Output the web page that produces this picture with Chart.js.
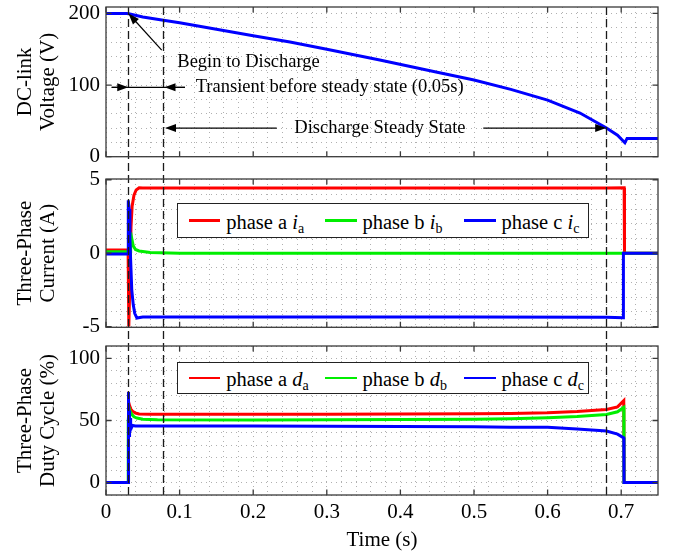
<!DOCTYPE html>
<html><head><meta charset="utf-8">
<script src="https://cdn.jsdelivr.net/npm/chart.js@4.4.0/dist/chart.umd.min.js"></script>
<style>
html,body{margin:0;padding:0;background:#fff;}
#wrap{position:relative;width:673px;height:555px;overflow:hidden;background:#fff;}
canvas{position:absolute;left:0;}
.legend{position:absolute;box-sizing:border-box;border:1px solid #222;background:#fff;font-family:"Liberation Serif","Times New Roman",serif;color:#000;}
.legend .item{position:absolute;top:0;bottom:0;display:flex;align-items:center;}
.legend .ln{display:inline-block;width:31.5px;height:2.7px;margin-right:6px;}
.legend .tx{font-size:20.5px;line-height:1;white-space:nowrap;position:relative;top:1.5px;}
.legend sub{font-size:14px;vertical-align:baseline;position:relative;top:4px;}
</style></head>
<body><div id="wrap">
<canvas id="c1" width="673" height="167" style="top:0px"></canvas>
<canvas id="c2" width="673" height="170" style="top:167px"></canvas>
<canvas id="c3" width="673" height="218" style="top:337px"></canvas>
</div>
<script>
// ---------------- data ----------------
const timeV   = [0, 0.028, 0.031, 0.05, 0.078, 0.1, 0.15, 0.2, 0.25, 0.3, 0.372, 0.45, 0.5, 0.55, 0.6, 0.644, 0.68, 0.695, 0.705, 0.708, 0.75];
const voltage = [200, 200, 199.5, 195, 190.5, 187, 178, 169, 160, 150, 135, 118, 107, 94, 79, 61, 40, 30, 19.5, 25.5, 25.5];

const timeIa   = [0, 0.0300, 0.0310, 0.0320, 0.0330, 0.0340, 0.0355, 0.0380, 0.0410, 0.0450, 0.0500, 0.1, 0.3, 0.5, 0.68, 0.7040, 0.7045, 0.75];
const currentA = [0.22, 0.22, -5, -3, -0.5, 1.8, 3.2, 3.95, 4.3, 4.45, 4.43, 4.43, 4.43, 4.43, 4.44, 4.46, 0, 0];
const timeIb   = [0, 0.0330, 0.0335, 0.0350, 0.0370, 0.0400, 0.0450, 0.0600, 0.1, 0.75];
const currentB = [0.1, 0.1, 1.4, 1.0, 0.5, 0.25, 0.15, 0.05, 0, 0];
const timeIc   = [0, 0.0300, 0.0303, 0.0315, 0.0325, 0.0335, 0.0350, 0.0370, 0.0390, 0.0420, 0.0460, 0.0500, 0.1, 0.3, 0.5, 0.68, 0.7028, 0.7030, 0.75];
const currentC = [-0.05, -0.05, 3.6, 3.0, 1.0, -0.5, -2.5, -3.5, -4.1, -4.42, -4.38, -4.35, -4.35, -4.35, -4.35, -4.36, -4.4, 0, 0];

const timeDa = [0, 0.0300, 0.0302, 0.0310, 0.0320, 0.0340, 0.0360, 0.0400, 0.0450, 0.0600, 0.1, 0.2, 0.3, 0.4, 0.5, 0.55, 0.6, 0.64, 0.68, 0.695, 0.7035, 0.7040, 0.75];
const dutyA  = [0, 0, 50, 65, 62, 59, 57.5, 56, 55.3, 55, 55, 55, 55.1, 55.2, 55.4, 55.7, 56.2, 57.2, 58.8, 61, 66, 0, 0];
const timeDb = [0, 0.0300, 0.0302, 0.0315, 0.0330, 0.0350, 0.0380, 0.0420, 0.0500, 0.0700, 0.2, 0.3, 0.4, 0.5, 0.55, 0.6, 0.64, 0.68, 0.695, 0.7035, 0.7038, 0.75];
const dutyB  = [0, 0, 50, 60, 57, 55, 53, 52, 51, 50.6, 50.5, 50.6, 50.8, 51.1, 51.5, 52.2, 53.2, 54.8, 57, 60.5, 0, 0];
const timeDc = [0, 0.0300, 0.0302, 0.0306, 0.0310, 0.0314, 0.0318, 0.0322, 0.0327, 0.0332, 0.0338, 0.0345, 0.0360, 0.0400, 0.1, 0.2, 0.3, 0.4, 0.5, 0.55, 0.6, 0.64, 0.68, 0.695, 0.7035, 0.7038, 0.75];
const dutyC  = [0, 0, 73, 35, 66, 38, 58, 40, 52, 42, 48, 44, 46, 45.5, 45.6, 45.5, 45.4, 45.2, 44.9, 44.6, 44.5, 43.2, 41.5, 39, 36, 0, 0];

const xTickValues = [0, 0.1, 0.2, 0.3, 0.4, 0.5, 0.6, 0.7];
const xTickLabels = ['0', '0.1', '0.2', '0.3', '0.4', '0.5', '0.6', '0.7'];
const vTickValues = [0, 100, 200];
const iTickValues = [-5, 0, 5];
const dTickValues = [0, 50, 100];
const markerTimes = [0.03, 0.078, 0.679];
const phaseNames = ['phase a', 'phase b', 'phase c'];
const phaseSubs = ['a', 'b', 'c'];
const phaseColors = ['#ff0000', '#00ee00', '#0000ff'];

// ---------------- helpers ----------------
const FONT = '"Liberation Serif","Times New Roman",serif';
const GRID = '#b0b0b0';
const FRAME = '#3a3a3a';

function steps(min, max, step) { const a = []; for (let v = min; v <= max + 1e-9; v += step) a.push(+v.toFixed(6)); return a; }
const xGrid = steps(0, 0.74, 0.02);

function pts(ts, vs) { return ts.map((t, i) => ({x: t, y: vs[i]})); }
function ds(ts, vs, color, order) {
  return {data: pts(ts, vs), borderColor: color, backgroundColor: color, borderWidth: 3, pointRadius: 0, tension: 0, fill: false, order: order};
}

function drawArrow(ctx, x1, y1, x2, y2) {
  const ang = Math.atan2(y2 - y1, x2 - x1), L = 11, W = 4;
  ctx.beginPath(); ctx.moveTo(x1, y1); ctx.lineTo(x2 - Math.cos(ang) * 6, y2 - Math.sin(ang) * 6); ctx.stroke();
  ctx.beginPath();
  ctx.moveTo(x2, y2);
  ctx.lineTo(x2 - L * Math.cos(ang) + W * Math.sin(ang), y2 - L * Math.sin(ang) - W * Math.cos(ang));
  ctx.lineTo(x2 - L * Math.cos(ang) - W * Math.sin(ang), y2 - L * Math.sin(ang) + W * Math.cos(ang));
  ctx.closePath(); ctx.fill();
}

const framePlugin = {
  id: 'frame',
  afterDatasetsDraw(chart, args, opts) {
    const {ctx, chartArea: a, scales: {x, y}} = chart;
    // dashed markers
    ctx.save();
    ctx.strokeStyle = '#1a1a1a'; ctx.lineWidth = 1.3; ctx.setLineDash([8, 4]);
    const top = opts.fromTop ? a.top : 0;
    const bottom = opts.toBottom ? a.bottom : chart.height;
    ctx.lineDashOffset = (opts.pageTop + top) - 7;
    markerTimes.forEach(t => {
      const px = Math.round(x.getPixelForValue(t)) + 0.5;
      ctx.beginPath(); ctx.moveTo(px, top); ctx.lineTo(px, bottom); ctx.stroke();
    });
    ctx.restore();
    // annotations
    if (opts.annotate) {
      ctx.save();
      ctx.fillStyle = '#000'; ctx.strokeStyle = '#000'; ctx.lineWidth = 1.2;
      const X = v => x.getPixelForValue(v), Y = v => y.getPixelForValue(v);
      drawArrow(ctx, X(0.0757), Y(148.9), X(0.0306), Y(199.8));
      const yT = Y(96.8);
      ctx.beginPath(); ctx.moveTo(X(0.0077), yT); ctx.lineTo(X(0.1073), yT); ctx.stroke();
      drawArrow(ctx, X(0.0077), yT, X(0.0302), yT);
      drawArrow(ctx, X(0.1073), yT, X(0.0795), yT);
      const yS = Y(40);
      drawArrow(ctx, X(0.232), yS, X(0.0802), yS);
      drawArrow(ctx, X(0.5126), yS, X(0.6796), yS);
      ctx.font = '18.5px ' + FONT; ctx.textBaseline = 'middle'; ctx.textAlign = 'left';
      ctx.fillText('Begin to Discharge', X(0.0969), Y(132.2));
      ctx.fillText('Transient before steady state (0.05s)', X(0.1219), yT);
      ctx.fillText('Discharge Steady State', X(0.2558), yS);
      ctx.restore();
    }
    // frame + inward ticks
    ctx.save();
    ctx.strokeStyle = FRAME; ctx.lineWidth = 1.3; ctx.setLineDash([]);
    ctx.strokeRect(a.left, a.top, a.right - a.left, a.bottom - a.top);
    const L = 5.5;
    ctx.beginPath();
    xTickValues.forEach(v => {
      const p = x.getPixelForValue(v);
      ctx.moveTo(p, a.bottom); ctx.lineTo(p, a.bottom - L);
      ctx.moveTo(p, a.top); ctx.lineTo(p, a.top + L);
    });
    opts.yMajor.forEach(v => {
      const p = y.getPixelForValue(v);
      ctx.moveTo(a.left, p); ctx.lineTo(a.left + L, p);
      ctx.moveTo(a.right, p); ctx.lineTo(a.right - L, p);
    });
    ctx.stroke();
    ctx.restore();
  }
};

function makeOptions(cfg) {
  return {
    responsive: false, animation: false, devicePixelRatio: 1, events: [],
    layout: {padding: cfg.padding},
    plugins: {
      legend: {display: false}, tooltip: {enabled: false},
      frame: {yMajor: cfg.yMajor, pageTop: cfg.pageTop, fromTop: cfg.fromTop, toBottom: cfg.toBottom, annotate: cfg.annotate}
    },
    scales: {
      x: {
        type: 'linear', min: 0, max: 0.75,
        afterBuildTicks: s => { s.ticks = xGrid.map(v => ({value: v})); },
        afterFit: s => { s.height = cfg.showX ? 60 : 0; s.paddingLeft = 0; s.paddingRight = 0; },
        grid: {color: GRID, lineWidth: 1, drawTicks: false},
        border: {display: false, dash: [1, 4]},
        ticks: {
          display: cfg.showX, autoSkip: false, maxRotation: 0, minRotation: 0, padding: 5, color: '#000',
          font: {family: FONT, size: 21},
          callback: v => { const k = xTickValues.findIndex(m => Math.abs(m - v) < 1e-6); return k >= 0 ? xTickLabels[k] : ''; }
        },
        title: {display: cfg.showX, text: 'Time (s)', color: '#000', font: {family: FONT, size: 21}, padding: {top: 0, bottom: 2.4}}
      },
      y: {
        type: 'linear', min: cfg.ymin, max: cfg.ymax,
        afterBuildTicks: s => { s.ticks = cfg.grid.map(v => ({value: v})); },
        afterFit: s => { s.width = 106; s.paddingTop = 0; s.paddingBottom = 0; },
        grid: {color: GRID, lineWidth: 1, drawTicks: false},
        border: {display: false, dash: [1, 4]},
        ticks: {
          autoSkip: false, padding: 6, color: '#000', font: {family: FONT, size: 21},
          callback: v => cfg.yMajor.some(m => Math.abs(m - v) < 1e-6) ? String(v) : ''
        },
        title: {display: true, text: cfg.title, color: '#000', font: {family: FONT, size: 21, lineHeight: 1.1}, padding: {top: 13.5, bottom: 0}}
      }
    }
  };
}

// ---------------- charts ----------------
const chartV = new Chart(document.getElementById('c1'), {
  type: 'line',
  data: {datasets: [ds(timeV, voltage, '#0000ff', 1)]},
  options: makeOptions({padding: {left: 0, right: 15, top: 7, bottom: 10.3}, ymin: 0, ymax: 209, grid: steps(0, 200, 20), yMajor: vTickValues,
    title: ['DC-link', 'Voltage (V)'], showX: false, pageTop: 0, fromTop: true, toBottom: false, annotate: true}),
  plugins: [framePlugin]
});

const chartI = new Chart(document.getElementById('c2'), {
  type: 'line',
  data: {datasets: [ds(timeIa, currentA, phaseColors[0], 3), ds(timeIb, currentB, phaseColors[1], 2), ds(timeIc, currentC, phaseColors[2], 1)]},
  options: makeOptions({padding: {left: 0, right: 15, top: 12, bottom: 9.7}, ymin: -5.05, ymax: 5.05, grid: steps(-5, 5, 1), yMajor: iTickValues,
    title: ['Three-Phase', 'Current (A)'], showX: false, pageTop: 167, fromTop: false, toBottom: false, annotate: false}),
  plugins: [framePlugin]
});

const chartD = new Chart(document.getElementById('c3'), {
  type: 'line',
  data: {datasets: [ds(timeDa, dutyA, phaseColors[0], 3), ds(timeDb, dutyB, phaseColors[1], 2), ds(timeDc, dutyC, phaseColors[2], 1)]},
  options: makeOptions({padding: {left: 0, right: 15, top: 9, bottom: 0}, ymin: -10, ymax: 110, grid: steps(-10, 110, 10), yMajor: dTickValues,
    title: ['Three-Phase', 'Duty Cycle (%)'], showX: true, pageTop: 337, fromTop: false, toBottom: true, annotate: false}),
  plugins: [framePlugin]
});

// ---------------- legends ----------------
const wrap = document.getElementById('wrap');
const legendOffsets = [10.7, 147, 286];
function addLegend(chart, top, height, symbol) {
  const box = document.createElement('div'); box.className = 'legend';
  Object.assign(box.style, {left: '177px', top: top + 'px', width: '412px', height: height + 'px'});
  chart.data.datasets.forEach((d, i) => {
    const item = document.createElement('div'); item.className = 'item'; item.style.left = legendOffsets[i] + 'px';
    const ln = document.createElement('span'); ln.className = 'ln'; ln.style.background = d.borderColor;
    const tx = document.createElement('span'); tx.className = 'tx';
    tx.innerHTML = phaseNames[i] + ' <i>' + symbol + '</i><sub>' + phaseSubs[i] + '</sub>';
    item.append(ln, tx); box.append(item);
  });
  wrap.append(box);
}
addLegend(chartI, 203, 35, 'i');
addLegend(chartD, 362, 32, 'd');
</script></body></html>
